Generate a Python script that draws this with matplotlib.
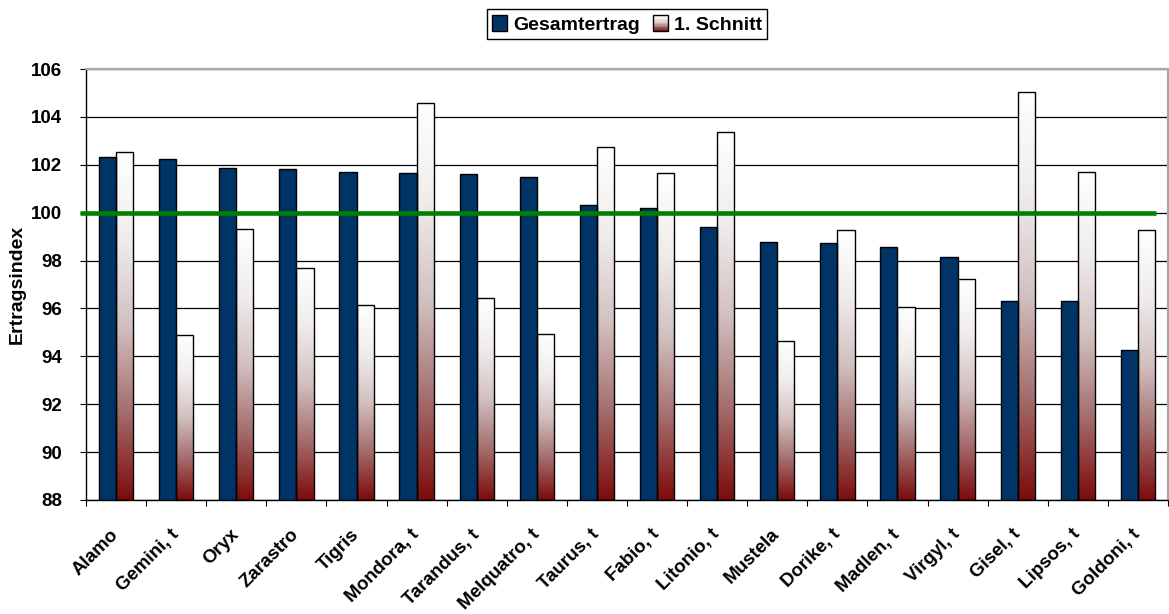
import numpy as np
import matplotlib
matplotlib.use("Agg")
import matplotlib.pyplot as plt
from matplotlib.colors import LinearSegmentedColormap
from matplotlib.patches import Rectangle
from matplotlib.legend_handler import HandlerBase

plt.rcParams['font.family'] = ['Liberation Sans', 'DejaVu Sans']
plt.rcParams['font.weight'] = 'bold'

categories = ["Alamo", "Gemini, t", "Oryx", "Zarastro", "Tigris", "Mondora, t",
              "Tarandus, t", "Melquatro, t", "Taurus, t", "Fabio, t", "Litonio, t",
              "Mustela", "Dorike, t", "Madlen, t", "Virgyl, t", "Gisel, t",
              "Lipsos, t", "Goldoni, t"]
gesamtertrag = [102.33, 102.25, 101.85, 101.81, 101.68, 101.64, 101.61, 101.50,
                100.31, 100.19, 99.40, 98.76, 98.75, 98.58, 98.14, 96.33, 96.32, 94.28]
schnitt1 = [102.53, 94.89, 99.31, 97.69, 96.14, 104.57, 96.43, 94.93, 102.74,
            101.67, 103.36, 94.64, 99.28, 96.06, 97.22, 105.04, 101.68, 99.28]
series_names = ["Gesamtertrag", "1. Schnitt"]
reference = 100
y_ticks = [88, 90, 92, 94, 96, 98, 100, 102, 104, 106]
y_label = "Ertragsindex"

W, H = 1169, 614
fig = plt.figure(figsize=(W / 100, H / 100), dpi=100)
ax = fig.add_axes([86 / W, (H - 500) / H, (1168 - 86) / W, (500 - 69) / H])

ymin, ymax = y_ticks[0], y_ticks[-1]
navy = '#003366'
cmap = LinearSegmentedColormap.from_list(
    'wr', [(0.0, '#7d0b0b'), (0.25, '#a46c6c'), (0.5, '#d2c0c0'),
           (0.75, '#f0ecec'), (1.0, '#ffffff')])

x = np.arange(len(categories))
w = 0.286
g = np.array(gesamtertrag)
s = np.array(schnitt1)
bars1 = ax.bar(x - w / 2, g - ymin, w, bottom=ymin, color=navy,
               edgecolor='black', linewidth=1.0, zorder=3)
bars2 = ax.bar(x + w / 2, s - ymin, w, bottom=ymin, facecolor='none',
               edgecolor='black', linewidth=1.0, zorder=3)

grad = np.linspace(1, 0, 256).reshape(-1, 1)
for p in bars2:
    x0 = p.get_x()
    ax.imshow(grad, cmap=cmap, vmin=0, vmax=1, aspect='auto', zorder=2.5,
              extent=[x0, x0 + p.get_width(), p.get_y(), p.get_y() + p.get_height()],
              interpolation='bilinear')

ax.plot([-0.0055, 0.989], [reference, reference], transform=ax.get_yaxis_transform(),
        color='#008000', lw=3.3, clip_on=False, zorder=5, solid_capstyle='butt')

ax.set_xlim(-0.5, len(categories) - 0.5)
ax.set_ylim(ymin, ymax)

ax.set_yticks(y_ticks)
ax.set_yticklabels([str(t) for t in y_ticks], fontsize=13.5, fontweight='bold')
ax.tick_params(axis='y', direction='out', length=4.3, width=0.8, pad=13, colors='black')
ax.yaxis.grid(True, color='black', linewidth=0.9)
ax.set_axisbelow(True)

ax.set_xticks(x)
ax.set_xticklabels(categories, rotation=45, ha='right', va='center',
                   rotation_mode='anchor', fontsize=13.5, fontweight='bold')
ax.tick_params(axis='x', which='major', length=0, pad=23)
ax.set_xticks(np.arange(-0.5, len(categories)), minor=True)
ax.tick_params(axis='x', which='minor', direction='out', length=4, width=0.8)

for side in ['left', 'bottom']:
    ax.spines[side].set_color('black')
    ax.spines[side].set_linewidth(1.0)
for side in ['top', 'right']:
    ax.spines[side].set_color('#a8a8a8')
    ax.spines[side].set_linewidth(1.6)

fig.text(17 / W, 1 - 284.5 / H, y_label, rotation=90, ha='center', va='center',
         fontsize=14, fontweight='bold')


class GradHandler(HandlerBase):
    def create_artists(self, legend, orig_handle, xdescent, ydescent, width,
                       height, fontsize, trans):
        arts = []
        n = 12
        for i in range(n):
            t = (i + 0.5) / n
            r = Rectangle((0, -ydescent + height * i / n), width,
                          height / n, facecolor=cmap(t), edgecolor='none',
                          transform=trans)
            arts.append(r)
        arts.append(Rectangle((0, -ydescent), width, height, facecolor='none',
                              edgecolor='black', linewidth=1.0, transform=trans))
        return arts


h1 = Rectangle((0, 0), 1, 1, facecolor=navy, edgecolor='black', linewidth=1.0)
h2 = Rectangle((0, 0), 1, 1, facecolor='white', edgecolor='black')
leg = ax.legend([h1, h2], series_names, loc='upper center',
                bbox_to_anchor=(0.5, 1 + (69 - 9) / 431), ncol=2,
                handler_map={h2: GradHandler()}, frameon=True, fancybox=False,
                edgecolor='black', framealpha=1,
                prop={'weight': 'bold', 'size': 14},
                handlelength=0.75, handleheight=0.9, handletextpad=0.3,
                columnspacing=0.7, borderpad=0.3, borderaxespad=0)
leg.get_frame().set_linewidth(1.0)

fig.savefig('out.png', dpi=100)
